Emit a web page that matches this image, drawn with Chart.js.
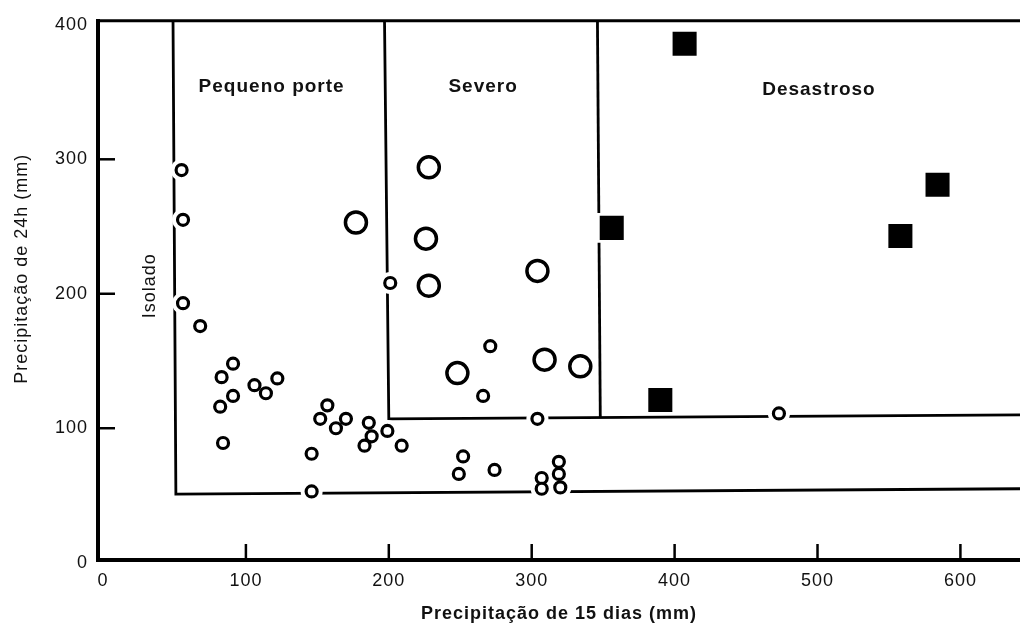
<!DOCTYPE html>
<html>
<head>
<meta charset="utf-8">
<script src="https://cdn.jsdelivr.net/npm/chart.js@4.4.1/dist/chart.umd.min.js"></script>
<style>
  html, body { margin: 0; padding: 0; background: #fff; }
  #wrap { width: 1020px; height: 628px; position: relative; }
</style>
</head>
<body>
<div id="wrap"><canvas id="grafico"></canvas></div>
<script>
// Eixos (mm)
const xTicks = [0, 100, 200, 300, 400, 500, 600];
const yTicks = [0, 100, 200, 300, 400];
const xMin = -3.5, xMax = 641.7;
const yMin = 2, yMax = 403;

// Eventos [precipitação 15 dias, precipitação 24h]
const circulosPequenos = [
    [55, 292], [56, 255], [56, 193], [68, 176], [91, 148], [83, 138], [91, 124],
    [82, 116], [84, 89], [106, 132], [114, 126], [122, 137], [146, 81], [146, 53],
    [157, 117], [152, 107], [163, 100], [170, 107], [186, 104], [188, 94], [199, 98],
    [183, 87], [209, 87], [201, 208], [249, 66], [252, 79], [274, 69], [271, 161],
    [266, 124], [304, 107], [307, 63], [307, 55], [319, 75], [319, 66], [320, 56],
    [473, 111]
];
const circulosGrandes = [
    [177, 253], [228, 294], [226, 241], [228, 206], [304, 217], [248, 141],
    [309, 151], [334, 146]
];
const quadrados = [
    [407, 386], [356, 249], [390, 121], [558, 243], [584, 281]
];

// Limites entre as classes
const limiteIsolado = [[49, yMax], [51, 51], [xMax, 55]];
const limiteSevero = [[197, yMax], [200, 107], [xMax, 110]];
const limiteDesastroso = [[346, yMax], [348, 108]];

// Nomes das classes [texto, x, y, vertical]
const rotulosClasses = [
    ['Pequeno porte', 118, 354, false],
    ['Severo', 266, 354, false],
    ['Desastroso', 501, 352, false],
    ['Isolado', 33, 206, true]
];

const tituloY = 'Precipitação de 24h (mm)';

const pares = arr => arr.map(p => ({ x: p[0], y: p[1] }));
const fonte = '"Liberation Sans", Arial, sans-serif';

// Moldura superior, marcas internas dos eixos, título vertical e nomes das classes
const molduraPlugin = {
    id: 'moldura',
    beforeLayout(chart) { chart.ctx.letterSpacing = '1px'; },
    beforeDraw(chart) { chart.ctx.letterSpacing = '1px'; },
    afterDraw(chart) {
        const { ctx, chartArea, scales } = chart;
        ctx.save();
        ctx.strokeStyle = '#000';
        ctx.lineWidth = 3;
        ctx.beginPath();
        ctx.moveTo(chartArea.left, chartArea.top);
        ctx.lineTo(chartArea.right, chartArea.top);
        ctx.stroke();

        ctx.lineWidth = 2.5;
        yTicks.slice(1, -1).forEach(v => {
            const py = scales.y.getPixelForValue(v);
            ctx.beginPath();
            ctx.moveTo(chartArea.left, py);
            ctx.lineTo(chartArea.left + 17, py);
            ctx.stroke();
        });
        xTicks.slice(1).forEach(v => {
            const px = scales.x.getPixelForValue(v);
            ctx.beginPath();
            ctx.moveTo(px, chartArea.bottom);
            ctx.lineTo(px, chartArea.bottom - 16);
            ctx.stroke();
        });

        ctx.fillStyle = '#111';
        ctx.textAlign = 'center';
        ctx.textBaseline = 'middle';

        // título do eixo y, um pouco acima do centro como no original
        ctx.save();
        ctx.translate(22, chartArea.top + chartArea.height * 0.46);
        ctx.rotate(-Math.PI / 2);
        ctx.font = '18px ' + fonte;
        ctx.fillText(tituloY, 0, 0);
        ctx.restore();

        rotulosClasses.forEach(r => {
            const px = scales.x.getPixelForValue(r[1]);
            const py = scales.y.getPixelForValue(r[2]);
            ctx.save();
            ctx.translate(px, py);
            if (r[3]) {
                ctx.rotate(-Math.PI / 2);
                ctx.font = '18px ' + fonte;
            } else {
                ctx.font = 'bold 19px ' + fonte;
            }
            ctx.fillText(r[0], 0, 0);
            ctx.restore();
        });
        ctx.restore();
    }
};

const linha = data => ({
    type: 'line',
    data: pares(data),
    borderColor: '#000',
    borderWidth: 2.8,
    pointRadius: 0,
    fill: false,
    tension: 0,
    order: 2
});

// Halo branco que interrompe as linhas em volta dos marcadores
const halo = (data, raio, estilo) => ({
    type: 'scatter',
    data: pares(data),
    pointStyle: estilo,
    pointRadius: raio,
    pointBackgroundColor: '#fff',
    pointBorderWidth: 0,
    order: 1
});

new Chart(document.getElementById('grafico'), {
    type: 'scatter',
    data: {
        datasets: [
            {
                data: pares(circulosPequenos),
                pointRadius: 5.5,
                pointBorderWidth: 3.2,
                pointBorderColor: '#000',
                pointBackgroundColor: '#fff',
                order: 0
            },
            {
                data: pares(circulosGrandes),
                pointRadius: 10.5,
                pointBorderWidth: 3.5,
                pointBorderColor: '#000',
                pointBackgroundColor: '#fff',
                order: 0
            },
            {
                data: pares(quadrados),
                pointStyle: 'rect',
                pointRadius: 17,
                pointBorderWidth: 0,
                pointBackgroundColor: '#000',
                order: 0
            },
            halo(circulosPequenos, 11, 'circle'),
            halo(circulosGrandes, 15, 'circle'),
            halo(quadrados, 21, 'rect'),
            linha(limiteIsolado),
            linha(limiteSevero),
            linha(limiteDesastroso)
        ]
    },
    options: {
        responsive: true,
        maintainAspectRatio: false,
        animation: false,
        events: [],
        layout: { autoPadding: false, padding: { top: 17, right: 0, left: 0, bottom: 0 } },
        plugins: {
            legend: { display: false },
            tooltip: { enabled: false }
        },
        scales: {
            x: {
                type: 'linear',
                min: xMin,
                max: xMax,
                afterBuildTicks: s => { s.ticks = xTicks.map(v => ({ value: v })); },
                afterFit: s => { s.height = 68; },
                grid: { display: false, drawTicks: false },
                border: { display: true, color: '#000', width: 4 },
                ticks: { color: '#111', padding: 10, font: { family: fonte, size: 18 } },
                title: {
                    display: true,
                    text: 'Precipitação de 15 dias (mm)',
                    color: '#111',
                    font: { family: fonte, size: 18, weight: 'bold' },
                    padding: { top: 0, bottom: 3 }
                }
            },
            y: {
                type: 'linear',
                min: yMin,
                max: yMax,
                afterBuildTicks: s => { s.ticks = yTicks.map(v => ({ value: v })); },
                afterFit: s => { s.width = 98; },
                grid: { display: false, drawTicks: false },
                border: { display: true, color: '#000', width: 4 },
                ticks: { color: '#111', padding: 10, font: { family: fonte, size: 18 } }
            }
        }
    },
    plugins: [molduraPlugin]
});
</script>
</body>
</html>
